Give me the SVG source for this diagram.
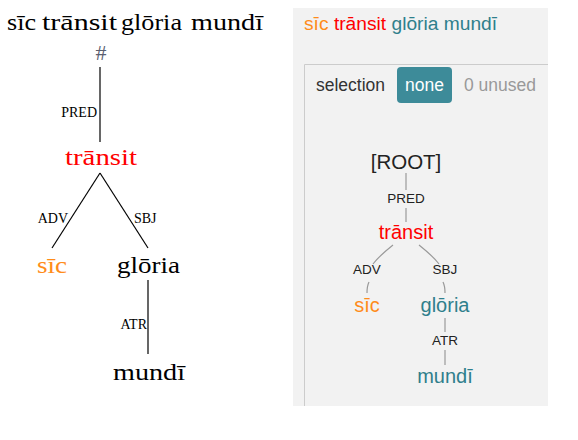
<svg xmlns="http://www.w3.org/2000/svg" width="578" height="440" viewBox="0 0 578 440">
<style>
.serif{font-family:"Liberation Serif","DejaVu Serif",serif;}
.sans{font-family:"Liberation Sans",Arial,sans-serif;}
.tw{font-size:23px;}
.lab{font-size:14px;text-anchor:end;fill:#000;}
.edge{stroke:#000;stroke-width:1.2;fill:none;}
.redge{stroke:#999;stroke-width:1.2;fill:none;}
.rw{font-size:20px;text-anchor:middle;}
.rlab{font-size:13.5px;text-anchor:middle;fill:#222;}
.orange{fill:#ff8c1a;}
.red{fill:#ff0000;}
.teal{fill:#2f7f8c;}
</style>
<rect width="578" height="440" fill="#fff"/>
<g class="serif tw" fill="#000">
<text x="7" y="30" textLength="29" lengthAdjust="spacingAndGlyphs">sīc</text>
<text x="42" y="30" textLength="75" lengthAdjust="spacingAndGlyphs">trānsit</text>
<text x="121" y="30" textLength="61" lengthAdjust="spacingAndGlyphs">glōria</text>
<text x="191" y="30" textLength="72" lengthAdjust="spacingAndGlyphs">mundī</text>
</g>

<g id="left-connectors">
<line class="edge" x1="100" y1="67" x2="100" y2="142"/>
<line class="edge" x1="100" y1="173" x2="52" y2="248"/>
<line class="edge" x1="100" y1="173" x2="148" y2="248"/>
<line class="edge" x1="148" y1="280" x2="148" y2="354"/>
<text class="serif lab" x="97" y="117">PRED</text>
<text class="serif lab" x="68" y="223">ADV</text>
<text class="serif" x="134" y="223" font-size="14">SBJ</text>
<text class="serif lab" x="147" y="329">ATR</text>
</g>
<g id="l-root"><text class="serif" x="101" y="60" fill="#5a6070" font-size="22" text-anchor="middle">#</text></g>
<g id="l-transit"><text class="serif tw red" x="65" y="165" textLength="72" lengthAdjust="spacingAndGlyphs">trānsit</text></g>
<g id="l-sic"><text class="serif tw orange" x="37" y="273" textLength="30" lengthAdjust="spacingAndGlyphs">sīc</text></g>
<g id="l-gloria"><text class="serif tw" x="117" y="273" fill="#000" textLength="63" lengthAdjust="spacingAndGlyphs">glōria</text></g>
<g id="l-mundi"><text class="serif tw" x="113" y="380" fill="#000" textLength="72" lengthAdjust="spacingAndGlyphs">mundī</text></g>

<rect x="293" y="8" width="255" height="398" fill="#f2f2f2"/>
<text class="sans" x="304" y="30" font-size="19.2"><tspan class="orange">sīc</tspan> <tspan class="red">trānsit</tspan> <tspan class="teal">glōria mundī</tspan></text>
<path d="M304.5,406 V64.5 H548" stroke="#ccc" stroke-width="1" fill="none"/>
<text class="sans" x="316" y="91" font-size="17.5" fill="#333">selection</text>
<g id="btn-none">
<rect x="397" y="67" width="55" height="36" rx="4" fill="#3d8b99"/>
<text class="sans" x="424.5" y="91" font-size="17.5" fill="#fff" text-anchor="middle">none</text>
</g>
<text class="sans" x="464" y="91" font-size="17.5" fill="#999">0 unused</text>

<g id="right-connectors">
<line class="redge" x1="406" y1="173" x2="406" y2="190"/>
<line class="redge" x1="406" y1="208" x2="406" y2="222"/>
<path class="redge" d="M393,245 C383,253 376,260 373,264"/>
<path class="redge" d="M369,282 C367,286 367,290 367,293"/>
<path class="redge" d="M419,245 C429,253 436,260 439,264"/>
<path class="redge" d="M443,282 C445,286 445,290 445,293"/>
<line class="redge" x1="445" y1="318" x2="445" y2="332"/>
<line class="redge" x1="445" y1="350" x2="445" y2="365"/>
<text class="sans rlab" x="406" y="203">PRED</text>
<text class="sans rlab" x="367" y="274">ADV</text>
<text class="sans rlab" x="445" y="274">SBJ</text>
<text class="sans rlab" x="445" y="345">ATR</text>
</g>
<g id="r-root"><text class="sans" x="406" y="169" fill="#222" font-size="20.5" text-anchor="middle">[ROOT]</text></g>
<g id="r-transit"><text class="sans rw red" x="406" y="239">trānsit</text></g>
<g id="r-sic"><text class="sans rw orange" x="367" y="312">sīc</text></g>
<g id="r-gloria"><text class="sans rw teal" x="445" y="312">glōria</text></g>
<g id="r-mundi"><text class="sans rw teal" x="445" y="383">mundī</text></g>
</svg>
